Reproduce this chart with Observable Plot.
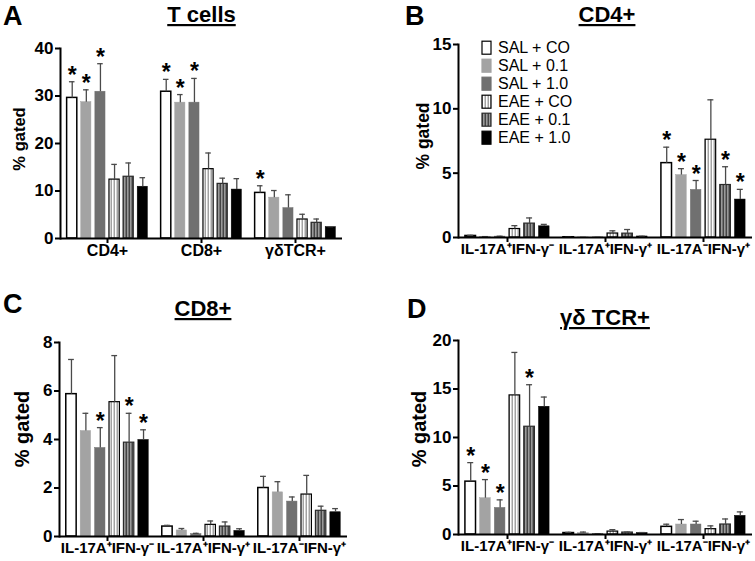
<!DOCTYPE html>
<html><head><meta charset="utf-8">
<script src="https://cdn.jsdelivr.net/npm/d3@7"></script>
<script src="https://cdn.jsdelivr.net/npm/@observablehq/plot@0.6"></script>
<style>
body{margin:0;background:#fff;}
#root{position:relative;width:755px;height:561px;overflow:hidden;background:#fff;font-family:"Liberation Sans",Arial,sans-serif;}
.panel{position:absolute;}
#overlay{position:absolute;left:0;top:0;pointer-events:none;}
</style></head>
<body>
<div id="root"></div>
<script>
// ---------- data ----------
const series = ["SAL + CO","SAL + 0.1","SAL + 1.0","EAE + CO","EAE + 0.1","EAE + 1.0"];
const catsA = ["CD4+","CD8+","γδTCR+"];
const catsIL = ["IL-17A⁺IFN-γ⁻","IL-17A⁺IFN-γ⁺","IL-17A⁻IFN-γ⁺"];

const meanA = [[29.6,28.7,30.9,12.4,13.0,10.9],[30.9,28.6,28.6,14.6,11.5,10.3],[9.6,8.6,6.4,4.0,3.3,2.4]];
const errA  = [[33.0,31.3,36.8,15.6,15.9,12.8],[33.5,30.3,33.7,18.0,12.7,12.6],[11.1,10.1,9.2,5.1,4.1,2.5]];
const starA = [[1,1,1,0,0,0],[1,1,1,0,0,0],[1,0,0,0,0,0]];

const meanB = [[0.12,0.05,0.07,0.66,1.08,0.87],[0.02,0.01,0.01,0.31,0.3,0.08],[5.78,4.85,3.7,7.6,4.08,2.95]];
const errB  = [[0.17,0.07,0.1,0.92,1.52,1.02],[0.03,0.01,0.01,0.52,0.62,0.1],[7.02,5.35,4.43,10.7,5.5,3.74]];
const starB = [[0,0,0,0,0,0],[0,0,0,0,0,0],[1,1,1,0,1,1]];

const meanC = [[5.87,4.35,3.65,5.54,3.87,3.98],[0.41,0.25,0.1,0.48,0.41,0.23],[2.0,1.82,1.44,1.73,1.06,1.0]];
const errC  = [[7.3,5.08,4.49,7.46,5.08,4.4],[0.46,0.33,0.13,0.64,0.6,0.32],[2.48,2.26,1.63,2.52,1.25,1.15]];
const starC = [[0,0,1,0,1,1],[0,0,0,0,0,0],[0,0,0,0,0,0]];

const meanD = [[5.45,3.74,2.74,14.34,11.11,13.17],[0.15,0.15,0.05,0.3,0.2,0.15],[0.79,1.03,1.03,0.55,1.03,1.92]];
const errD  = [[7.41,5.66,3.57,18.77,15.44,14.17],[0.22,0.25,0.08,0.5,0.25,0.2],[1.06,1.54,1.37,0.89,1.6,2.33]];
const starD = [[1,1,1,0,1,0],[0,0,0,0,0,0],[0,0,0,0,0,0]];

const ticksA = [0,10,20,30,40];
const ticksB = [0,5,10,15];
const ticksC = [0,2,4,6,8];
const ticksD = [0,5,10,15,20];

// ---------- styles ----------
const fills   = ["#ffffff","#a3a3a3","#707070","url(#patCO)","url(#pat01)","#000000"];
const strokes = ["#000000","#a3a3a3","#707070","#000000","#2a2a2a","#000000"];
const strokeW = [1.5,0.5,0.5,1.2,1.2,0.5];
const FONT = "Liberation Sans, Arial, Helvetica, sans-serif";

const root = document.getElementById("root");

const W = 755, H = 561;
const ov = d3.create("svg").attr("id","overlay").attr("width",W).attr("height",H)
  .style("font-family",FONT);
const defs = ov.append("defs");
const p1 = defs.append("pattern").attr("id","patCO").attr("patternUnits","userSpaceOnUse")
  .attr("width",3).attr("height",10);
p1.append("rect").attr("width",3).attr("height",10).attr("fill","#ffffff");
p1.append("rect").attr("x",1.6).attr("width",1.2).attr("height",10).attr("fill","#8c8c8c");
const p2 = defs.append("pattern").attr("id","pat01").attr("patternUnits","userSpaceOnUse")
  .attr("width",3).attr("height",10);
p2.append("rect").attr("width",3).attr("height",10).attr("fill","#9a9a9a");
p2.append("rect").attr("x",1.6).attr("width",1.3).attr("height",10).attr("fill","#3a3a3a");

function makePanel(cats, means, errs, stars, yMax, ticks, box) {
  const data = [];
  cats.forEach((c,i) => series.forEach((s,j) => data.push({cat:c, ser:s, v:means[i][j], e:errs[i][j], star:stars[i][j]})));
  const marks = [];
  series.forEach((s,j) => {
    marks.push(Plot.barY(data.filter(d => d.ser === s), {
      fx:"cat", x:"ser", y:"v", fill: fills[j], stroke: strokes[j], strokeWidth: strokeW[j]
    }));
  });
  marks.push(Plot.ruleX(data, {fx:"cat", x:"ser", y1:"v", y2:"e", stroke:"#4a4a4a", strokeWidth:1.3}));
  marks.push(Plot.tickY(data, {fx:"cat", x:"ser", y:"e", stroke:"#4a4a4a", strokeWidth:1.3, insetLeft:2.3, insetRight:2.3}));
  marks.push(Plot.text(data.filter(d => d.star), {fx:"cat", x:"ser", y:"e", text: () => "*",
    fontSize:23, fontWeight:"bold", lineAnchor:"bottom", dy:1, fill:"#000"}));
  marks.push(Plot.ruleY([0], {stroke:"#000", strokeWidth:2}));
  marks.push(Plot.frame({anchor:"left", facetAnchor:"left", stroke:"#000", strokeWidth:2}));
  marks.push(Plot.axisY({ticks, tickSize:5, strokeWidth:2, label:null, tickPadding:2, fontSize:17}));
  marks.push(Plot.axisFx({anchor:"bottom", tickSize:5, strokeWidth:2, label:null, tickPadding:1, fontSize:box.fxs}));
  const chart = Plot.plot({
    width: box.w, height: box.h,
    marginLeft: box.ml, marginRight: box.mr, marginTop: box.mt, marginBottom: box.mb,
    fx: {domain: cats, padding: 0},
    x: {domain: series, paddingInner: 0.28, paddingOuter: 0.47, axis: null, round: false},
    y: {domain: [0, yMax]},
    style: {fontFamily: FONT, fontWeight: "bold", color: "#000", background: "transparent", overflow: "visible"},
    marks
  });
  const div = document.createElement("div");
  div.className = "panel";
  div.style.left = box.x + "px";
  div.style.top = box.y + "px";
  div.appendChild(chart);
  root.appendChild(div);
}

makePanel(catsA, meanA, errA, starA, 40, ticksA, {x:0, y:0, w:380, h:280, ml:59, mr:37, mt:48, mb:42, fxs:16});
makePanel(catsIL, meanB, errB, starB, 15, ticksB, {x:380, y:0, w:375, h:280, ml:77, mr:2, mt:44, mb:43, fxs:15});
makePanel(catsIL, meanC, errC, starC, 8, ticksC, {x:0, y:280, w:380, h:281, ml:58, mr:32, mt:62, mb:25, fxs:15});
makePanel(catsIL, meanD, errD, starD, 20, ticksD, {x:380, y:280, w:375, h:281, ml:77, mr:2, mt:60, mb:27, fxs:15});

const letters = [["A",3,25],["B",405,25],["C",3,313],["D",407,318]];
ov.selectAll("text.letter").data(letters).join("text").attr("class","letter")
  .attr("x",d=>d[1]).attr("y",d=>d[2]).text(d=>d[0])
  .attr("font-size",27).attr("font-weight","bold").attr("fill","#000");

const titles = [["T cells",201.5,22],["CD4+",607,22],["CD8+",203,316],["γδ TCR+",605,325]];
ov.selectAll("text.title").data(titles).join("text").attr("class","title")
  .attr("x",d=>d[1]).attr("y",d=>d[2]).text(d=>d[0])
  .attr("text-anchor","middle").attr("font-size",22).attr("font-weight","bold")
  .style("text-decoration","underline").attr("fill","#000");

const ylabs = [[19,139,16.5],[423,136,17.5],[22,429,20],[419,429,20]];
ov.selectAll("text.ylab").data(ylabs).join("text").attr("class","ylab")
  .attr("transform",d=>`translate(${d[0]},${d[1]}) rotate(-90)`)
  .attr("text-anchor","middle").attr("dominant-baseline","central")
  .attr("font-size",d=>d[2]).attr("font-weight","bold").text("% gated");

const leg = ov.append("g");
series.forEach((s,j) => {
  const cy = 47.7 + j*18;
  leg.append("rect").attr("x",482).attr("y",cy-6.5).attr("width",9).attr("height",13)
    .attr("fill",fills[j]).attr("stroke",j===0||j===3?"#000":j===4?"#2a2a2a":fills[j]).attr("stroke-width",1.2);
  leg.append("text").attr("x",498).attr("y",cy+5.7).attr("font-size",16).attr("fill","#000").text(s);
});

root.appendChild(ov.node());
</script>
</body></html>
